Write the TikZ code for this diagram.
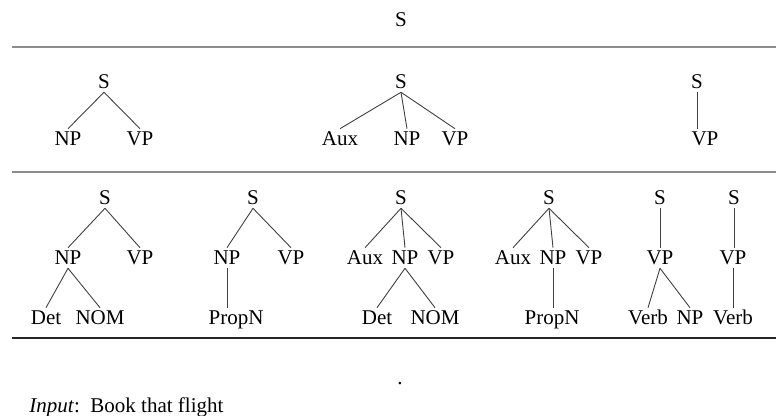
\documentclass[tikz,border=0pt]{standalone}
\usepackage{fontspec}
\setmainfont{Liberation Serif}
\begin{document}
\begin{tikzpicture}[x=0.5pt,y=-0.5pt,
        cat/.style={font=\fontsize{10.5}{12}\selectfont, inner sep=1.5pt, text height=1.5ex, text depth=0pt},
        branch/.style={draw=black!75, line width=0.45pt},
        rule/.style={draw=black!45, line width=0.9pt}]
        \useasboundingbox (0,0) rectangle (776,416);
        % Start symbol
        \node[cat] (top) at (401,20) {S};
        \draw[rule] (12,47) -- (776,47);

        % First expansion
        \node[cat] (a0) at (104,82) {S};
        \node[cat] (a1) at (68,139) {NP};
        \node[cat] (a2) at (140,139) {VP};
        \node[cat] (b0) at (401,82) {S};
        \node[cat] (b1) at (340,139) {Aux};
        \node[cat] (b2) at (407,139) {NP};
        \node[cat] (b3) at (455,139) {VP};
        \node[cat] (c0) at (697,82) {S};
        \node[cat] (c1) at (705,139) {VP};
        \draw[branch] (a0.south) -- (a1.north);
        \draw[branch] (a0.south) -- (a2.north);
        \draw[branch] (b0.south) -- (b1.north);
        \draw[branch] (b0.south) -- (b2.north);
        \draw[branch] (b0.south) -- (b3.north);
        \draw[branch] (c0.south) -- (c0.south |- c1.north);
        \draw[rule] (12,172) -- (776,172);

        % Second expansion
        \node[cat] (d0) at (105,198) {S};
        \node[cat] (d1) at (68,258) {NP};
        \node[cat] (d2) at (140,258) {VP};
        \node[cat] (d3) at (46,318) {Det};
        \node[cat] (d4) at (100,318) {NOM};
        \node[cat] (e0) at (253,198) {S};
        \node[cat] (e1) at (227,258) {NP};
        \node[cat] (e2) at (291,258) {VP};
        \node[cat] (e3) at (236,318) {PropN};
        \node[cat] (f0) at (401,198) {S};
        \node[cat] (f1) at (365,258) {Aux};
        \node[cat] (f2) at (405,258) {NP};
        \node[cat] (f3) at (441,258) {VP};
        \node[cat] (f4) at (377,318) {Det};
        \node[cat] (f5) at (435,318) {NOM};
        \node[cat] (g0) at (549,198) {S};
        \node[cat] (g1) at (513,258) {Aux};
        \node[cat] (g2) at (553,258) {NP};
        \node[cat] (g3) at (589,258) {VP};
        \node[cat] (g4) at (552,318) {PropN};
        \node[cat] (h0) at (660,198) {S};
        \node[cat] (h1) at (660,258) {VP};
        \node[cat] (h2) at (648,318) {Verb};
        \node[cat] (h3) at (690,318) {NP};
        \node[cat] (k0) at (734,198) {S};
        \node[cat] (k1) at (733,258) {VP};
        \node[cat] (k2) at (733,318) {Verb};
        \draw[branch] (d0.south) -- (d1.north);
        \draw[branch] (d0.south) -- (d2.north);
        \draw[branch] (d1.south) -- (d3.north);
        \draw[branch] (d1.south) -- (d4.north);
        \draw[branch] (e0.south) -- (e1.north);
        \draw[branch] (e0.south) -- (e2.north);
        \draw[branch] (e1.south) -- (e1.south |- e3.north);
        \draw[branch] (f0.south) -- (f1.north);
        \draw[branch] (f0.south) -- (f2.north);
        \draw[branch] (f0.south) -- (f3.north);
        \draw[branch] (f2.south) -- (f4.north);
        \draw[branch] (f2.south) -- (f5.north);
        \draw[branch] (g0.south) -- (g1.north);
        \draw[branch] (g0.south) -- (g2.north);
        \draw[branch] (g0.south) -- (g3.north);
        \draw[branch] (g2.south) -- (g2.south |- g4.north);
        \draw[branch] (h0.south) -- (h0.south |- h1.north);
        \draw[branch] (h1.south) -- (h2.north);
        \draw[branch] (h1.south) -- (h3.north);
        \draw[branch] (k0.south) -- (k0.south |- k1.north);
        \draw[branch] (k1.south) -- (k1.south |- k2.north);
        \draw[rule, draw=black!85] (12,338) -- (776,338);

        % Input
        \node[cat] (dot) at (400,378) {.};
        \node[cat, anchor=west] (input) at (26,406) {\textit{Input}:\ \ Book that flight};
\end{tikzpicture}
\end{document}
